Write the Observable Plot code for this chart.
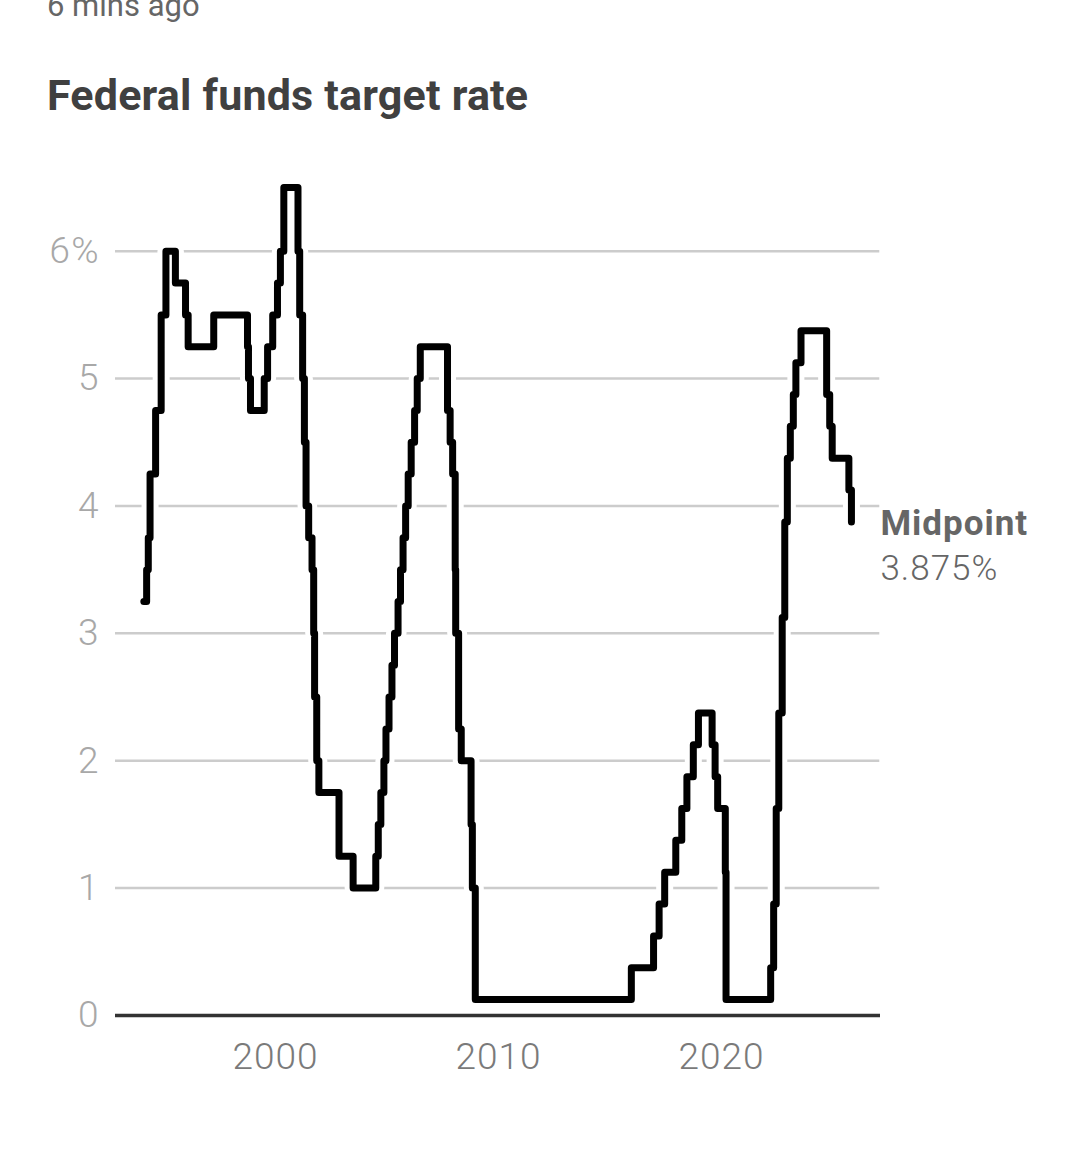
<!DOCTYPE html>
<html>
<head>
<meta charset="utf-8">
<script src="https://cdn.jsdelivr.net/npm/d3@7"></script>
<script src="https://cdn.jsdelivr.net/npm/@observablehq/plot@0.6"></script>
<style>
  html, body { margin: 0; padding: 0; background: #fff; }
  body { width: 1080px; height: 1166px; position: relative; overflow: hidden; font-family: Roboto, "Noto Sans", sans-serif; }
  #updated { position: absolute; left: 47px; top: -13px; font-size: 31px; color: #666; font-weight: 400; }
  #title { position: absolute; left: 47px; top: 70px; font-size: 43px; color: #404040; font-weight: 700; letter-spacing: 0.2px; }
  #chart { position: absolute; left: 0; top: 150px; }
  #chart svg text { letter-spacing: 1px; }
</style>
</head>
<body>
<div id="updated">6 mins ago</div>
<div id="title">Federal funds target rate</div>
<div id="chart"></div>
<script>
// Fed funds target rate changes (midpoint of target range where applicable)
const changeDates = [
  "1994-02-04","1994-03-22","1994-04-18","1994-05-17","1994-08-16","1994-11-15",
  "1995-02-01","1995-07-06","1995-12-19","1996-01-31","1997-03-25",
  "1998-09-29","1998-10-15","1998-11-17","1999-06-30","1999-08-24","1999-11-16",
  "2000-02-02","2000-03-21","2000-05-16",
  "2001-01-03","2001-01-31","2001-03-20","2001-04-18","2001-05-15","2001-06-27",
  "2001-08-21","2001-09-17","2001-10-02","2001-11-06","2001-12-11",
  "2002-11-06","2003-06-25",
  "2004-06-30","2004-08-10","2004-09-21","2004-11-10","2004-12-14",
  "2005-02-02","2005-03-22","2005-05-03","2005-06-30","2005-08-09","2005-09-20","2005-11-01","2005-12-13",
  "2006-01-31","2006-03-28","2006-05-10","2006-06-29",
  "2007-09-18","2007-10-31","2007-12-11",
  "2008-01-22","2008-01-30","2008-03-18","2008-04-30","2008-10-08","2008-10-29","2008-12-16",
  "2015-12-16","2016-12-14","2017-03-15","2017-06-14","2017-12-13",
  "2018-03-21","2018-06-13","2018-09-26","2018-12-19",
  "2019-07-31","2019-09-18","2019-10-30",
  "2020-03-03","2020-03-15",
  "2022-03-16","2022-05-04","2022-06-15","2022-07-27","2022-09-21","2022-11-02","2022-12-14",
  "2023-02-01","2023-03-22","2023-05-03","2023-07-26",
  "2024-09-18","2024-11-07","2024-12-18",
  "2025-09-17","2025-10-29"
];
const rates = [
  3.25,3.5,3.75,4.25,4.75,5.5,
  6.0,5.75,5.5,5.25,5.5,
  5.25,5.0,4.75,5.0,5.25,5.5,
  5.75,6.0,6.5,
  6.0,5.5,5.0,4.5,4.0,3.75,
  3.5,3.0,2.5,2.0,1.75,
  1.25,1.0,
  1.25,1.5,1.75,2.0,2.25,
  2.5,2.75,3.0,3.25,3.5,3.75,4.0,4.25,
  4.5,4.75,5.0,5.25,
  4.75,4.5,4.25,
  3.5,3.0,2.25,2.0,1.5,1.0,0.125,
  0.375,0.625,0.875,1.125,1.375,
  1.625,1.875,2.125,2.375,
  2.125,1.875,1.625,
  1.125,0.125,
  0.375,0.875,1.625,2.375,3.125,3.875,4.375,
  4.625,4.875,5.125,5.375,
  4.875,4.625,4.375,
  4.125,3.875
];
const yTicks = [0, 1, 2, 3, 4, 5, 6];
const yTickLabels = ["0", "1", "2", "3", "4", "5", "6%"];
const xTicks = ["2000-01-01", "2010-01-01", "2020-01-01"];
const xTickLabels = ["2000", "2010", "2020"];
const labelTitle = "Midpoint";
const labelValue = "3.875%";

const parse = d3.utcParse("%Y-%m-%d");
const data = changeDates.map((d, i) => ({date: parse(d), rate: rates[i]}));
const last = data[data.length - 1];

const chart = Plot.plot({
  width: 1080,
  height: 950,
  marginLeft: 115,
  marginRight: 200,
  marginTop: 37,
  marginBottom: 85,
  style: {fontFamily: "Roboto, 'Noto Sans', sans-serif", background: "#fff", overflow: "visible"},
  x: {type: "utc", domain: [parse("1992-10-28"), parse("2027-02-17")]},
  y: {domain: [0, 6.5]},
  marks: [
    Plot.ruleY(yTicks.filter(d => d > 0), {stroke: "#cccccc", strokeWidth: 2.5, strokeOpacity: 1, x1: parse("1992-10-28"), x2: parse("2027-02-05")}),
    Plot.axisY(yTicks, {tickSize: 0, tickPadding: 16, fontSize: 37, fontWeight: 300, fill: "#a8a8a8", tickFormat: (d) => yTickLabels[yTicks.indexOf(d)], label: null}),
    Plot.axisX(xTicks.map(parse), {tickSize: 0, tickPadding: 27, fontSize: 37, fontWeight: 300, fill: "#7a7a7a", tickFormat: d => xTickLabels[xTicks.indexOf(d3.utcFormat("%Y-%m-%d")(d))], label: null}),
    Plot.ruleY([0], {stroke: "#333", strokeWidth: 3.5}),
    Plot.line(data, {x: "date", y: "rate", curve: "step-after", stroke: "#fff", strokeWidth: 17, strokeLinejoin: "round", strokeLinecap: "round"}),
    Plot.line(data, {x: "date", y: "rate", curve: "step-after", stroke: "#000", strokeWidth: 7, strokeLinejoin: "round", strokeLinecap: "round"}),
    Plot.text([last], {x: "date", y: "rate", text: () => labelTitle, dx: 29, dy: 2, textAnchor: "start", fontSize: 35, fontWeight: 700, fill: "#666", clip: false}),
    Plot.text([last], {x: "date", y: "rate", text: () => labelValue, dx: 29, dy: 47, textAnchor: "start", fontSize: 35, fontWeight: 300, fill: "#666", clip: false})
  ]
});
document.getElementById("chart").appendChild(chart);
</script>
</body>
</html>
